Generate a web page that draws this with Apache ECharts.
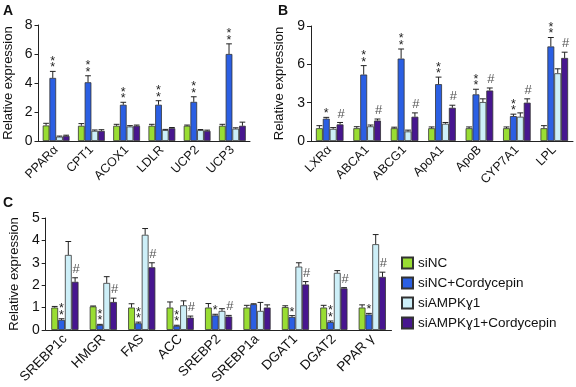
<!DOCTYPE html>
<html>
<head>
<meta charset="utf-8">
<script src="https://cdn.jsdelivr.net/npm/echarts@6.0.0/dist/echarts.min.js"></script>
<style>
  html, body { margin: 0; padding: 0; background: #fff; }
  #chart { width: 576px; height: 387px; }
</style>
</head>
<body>
<div id="chart"></div>
<script>
const seriesNames = ['siNC', 'siNC+Cordycepin', 'siAMPKɣ1', 'siAMPKɣ1+Cordycepin'];
const colors = ['#99dd33', '#2b5fe3', '#cdeff8', '#47168f'];

// panel A
const catA = ['PPARα', 'CPT1', 'ACOX1', 'LDLR', 'UCP2', 'UCP3'];
const aSiNC = [1.07, 1.05, 1.05, 1.05, 1.05, 1.05];
const aSiNCCord = [4.35, 4.05, 2.5, 2.5, 2.7, 6.0];
const aSiAMPK = [0.3, 0.7, 1.0, 0.75, 0.75, 0.85];
const aSiAMPKCord = [0.35, 0.7, 1.05, 0.88, 0.7, 1.05];
const aErrSiNC = [0.15, 0.15, 0.1, 0.1, 0.05, 0.1];
const aErrSiNCCord = [0.45, 0.45, 0.17, 0.28, 0.35, 0.7];
const aErrSiAMPK = [0.04, 0.06, 0.06, 0.05, 0.04, 0.06];
const aErrSiAMPKCord = [0.05, 0.08, 0.05, 0.05, 0.05, 0.25];
const aStar = ['**', '**', '**', '**', '**', '**'];
const aHash = ['', '', '', '', '', ''];

// panel B
const catB = ['LXRα', 'ABCA1', 'ABCG1', 'ApoA1', 'ApoB', 'CYP7A1', 'LPL'];
const bSiNC = [1.0, 1.0, 1.0, 1.0, 1.0, 1.0, 1.0];
const bSiNCCord = [1.75, 5.2, 6.45, 4.45, 3.65, 1.95, 7.4];
const bSiAMPK = [0.95, 1.15, 0.75, 1.35, 3.05, 1.9, 5.3];
const bSiAMPKCord = [1.3, 1.6, 1.9, 2.6, 3.95, 3.0, 6.5];
const bErrSiNC = [0.2, 0.12, 0.08, 0.1, 0.1, 0.1, 0.2];
const bErrSiNCCord = [0.1, 0.7, 0.75, 0.55, 0.4, 0.15, 0.7];
const bErrSiAMPK = [0.1, 0.1, 0.1, 0.1, 0.25, 0.3, 0.35];
const bErrSiAMPKCord = [0.15, 0.12, 0.3, 0.2, 0.2, 0.3, 0.45];
const bStar = ['*', '**', '**', '**', '**', '**', '**'];
const bHash = ['#', '#', '#', '#', '#', '#', '#'];

// panel C
const catC = ['SREBP1c', 'HMGR', 'FAS', 'ACC', 'SREBP2', 'SREBP1a', 'DGAT1', 'DGAT2', 'PPAR γ'];
const cSiNC = [1.0, 1.05, 1.0, 1.0, 1.0, 1.0, 1.02, 1.0, 1.0];
const cSiNCCord = [0.45, 0.22, 0.3, 0.18, 0.65, 1.15, 0.58, 0.35, 0.69];
const cSiAMPK = [3.35, 2.1, 4.25, 1.1, 0.85, 0.85, 2.83, 2.55, 3.83];
const cSiAMPKCord = [2.15, 1.25, 2.8, 0.55, 0.6, 1.0, 2.03, 1.86, 2.37];
const cErrSiNC = [0.05, 0.02, 0.17, 0.25, 0.18, 0.1, 0.06, 0.1, 0.12];
const cErrSiNCCord = [0.05, 0.03, 0.05, 0.03, 0.05, 0.02, 0.06, 0.05, 0.05];
const cErrSiAMPK = [0.6, 0.28, 0.28, 0.2, 0.1, 0.38, 0.17, 0.1, 0.43];
const cErrSiAMPKCord = [0.18, 0.17, 0.2, 0.07, 0.05, 0.12, 0.13, 0.03, 0.21];
const cStar = ['**', '**', '**', '**', '*', '', '*', '**', '*'];
const cHash = ['#', '#', '#', '#', '#', '', '#', '#', '#'];

const FONT = '"Liberation Sans", Arial, sans-serif';
const chart = echarts.init(document.getElementById('chart'));

const panels = [
  { cats: catA, vals: [aSiNC, aSiNCCord, aSiAMPK, aSiAMPKCord], errs: [aErrSiNC, aErrSiNCCord, aErrSiAMPK, aErrSiAMPKCord], star: aStar, hash: aHash, barW: 6.7, max: 8, step: 2, gap: 24, labelSize: 12.5 },
  { cats: catB, vals: [bSiNC, bSiNCCord, bSiAMPK, bSiAMPKCord], errs: [bErrSiNC, bErrSiNCCord, bErrSiAMPK, bErrSiAMPKCord], star: bStar, hash: bHash, barW: 6.9, max: 9, step: 3, gap: 25, labelSize: 12.5 },
  { cats: catC, vals: [cSiNC, cSiNCCord, cSiAMPK, cSiAMPKCord], errs: [cErrSiNC, cErrSiNCCord, cErrSiAMPK, cErrSiAMPKCord], star: cStar, hash: cHash, barW: 6.8, max: 5, step: 1, gap: 24, labelSize: 13.5 }
];

const grids = [
  { left: 38.5, top: 25, width: 211.5, height: 116 },
  { left: 311, top: 26, width: 262, height: 115 },
  { left: 37.5, top: 218, width: 354, height: 116 }
];

const xAxes = [], yAxes = [], series = [];

panels.forEach((p, g) => {
  xAxes.push({
    type: 'category', gridIndex: g, data: p.cats,
    axisLine: { lineStyle: { color: '#222', width: 1 } },
    axisTick: { inside: true, length: 4, interval: 0, lineStyle: { color: '#222' } },
    axisLabel: { rotate: 45, interval: 0, margin: 7, fontSize: p.labelSize, color: '#111', fontFamily: FONT }
  });
  yAxes.push({
    type: 'value', gridIndex: g, min: 0, max: p.max, interval: p.step,
    name: 'Relative expression', nameLocation: 'middle', nameGap: p.gap,
    nameTextStyle: { fontSize: 13, color: '#111', fontFamily: FONT },
    axisLine: { show: true, lineStyle: { color: '#222', width: 1 } },
    axisTick: { show: true, length: 4, lineStyle: { color: '#222' } },
    axisLabel: { fontSize: 14, margin: 6, color: '#111', fontFamily: FONT },
    splitLine: { show: false }
  });

  p.vals.forEach((vals, s) => {
    series.push({
      name: seriesNames[s], type: 'bar', xAxisIndex: g, yAxisIndex: g,
      barWidth: p.barW, barGap: '0%', data: vals,
      itemStyle: { color: colors[s], borderColor: '#333', borderWidth: 0.8 },
      emphasis: { disabled: true }
    });
  });

  // error bars, drawn from each bar top upward
  const errData = [];
  p.vals.forEach((vals, s) => vals.forEach((v, i) => errData.push([i, s, v, p.errs[s][i]])));
  series.push({
    type: 'custom', xAxisIndex: g, yAxisIndex: g, z: 5, silent: true,
    data: errData,
    renderItem: (params, api) => {
      const i = api.value(0), s = api.value(1), v = api.value(2), e = api.value(3);
      const dx = (s - 1.5) * p.barW;
      const b = api.coord([i, v]);
      const t = api.coord([i, v + e]);
      const x = b[0] + dx;
      const hw = p.barW / 2 - 0.5;
      return {
        type: 'group',
        children: [
          { type: 'line', shape: { x1: x, y1: b[1], x2: x, y2: t[1] }, style: { stroke: '#222', lineWidth: 1 } },
          { type: 'line', shape: { x1: x - hw, y1: t[1], x2: x + hw, y2: t[1] }, style: { stroke: '#222', lineWidth: 1 } }
        ]
      };
    }
  });

  // significance marks: * over siNC+Cordycepin, # over siAMPK+Cordycepin
  const markData = [], markText = [];
  p.cats.forEach((c, i) => {
    if (p.star[i]) { markData.push([i, 1, p.vals[1][i] + p.errs[1][i]]); markText.push(p.star[i]); }
    if (p.hash[i]) { markData.push([i, 3, p.vals[3][i] + p.errs[3][i]]); markText.push(p.hash[i]); }
  });
  series.push({
    type: 'custom', xAxisIndex: g, yAxisIndex: g, z: 6, silent: true,
    data: markData,
    renderItem: (params, api) => {
      const i = api.value(0), s = api.value(1), top = api.value(2);
      const pt = api.coord([i, top]);
      const x = pt[0] + (s - 1.5) * p.barW;
      const txt = markText[params.dataIndex];
      if (txt === '#') {
        return { type: 'text', style: { text: '#', x: x + 1, y: pt[1] - 2, align: 'center', verticalAlign: 'bottom', fontSize: 13, fill: '#555', fontFamily: FONT } };
      }
      const kids = [];
      for (let k = 0; k < txt.length; k++) {
        kids.push({ type: 'text', style: { text: '*', x: x, y: pt[1] - 10 - k * 6.5, align: 'center', verticalAlign: 'top', fontSize: 12.5, fill: '#222', fontFamily: FONT } });
      }
      return { type: 'group', children: kids };
    }
  });
});

chart.setOption({
  animation: false,
  textStyle: { fontFamily: FONT },
  grid: grids,
  xAxis: xAxes,
  yAxis: yAxes,
  legend: {
    data: seriesNames, orient: 'vertical', left: 401, top: 256, padding: 0,
    itemWidth: 11, itemHeight: 11, itemGap: 6, icon: 'rect',
    textStyle: { fontSize: 13.5, lineHeight: 14, color: '#111', fontFamily: FONT }
  },
  graphic: [
    { type: 'text', left: 3, top: 4, style: { text: 'A', fontSize: 14, fontWeight: 'bold', fill: '#111', fontFamily: FONT } },
    { type: 'text', left: 278, top: 4, style: { text: 'B', fontSize: 14, fontWeight: 'bold', fill: '#111', fontFamily: FONT } },
    { type: 'text', left: 3, top: 196, style: { text: 'C', fontSize: 14, fontWeight: 'bold', fill: '#111', fontFamily: FONT } }
  ],
  series: series
});
</script>
</body>
</html>
